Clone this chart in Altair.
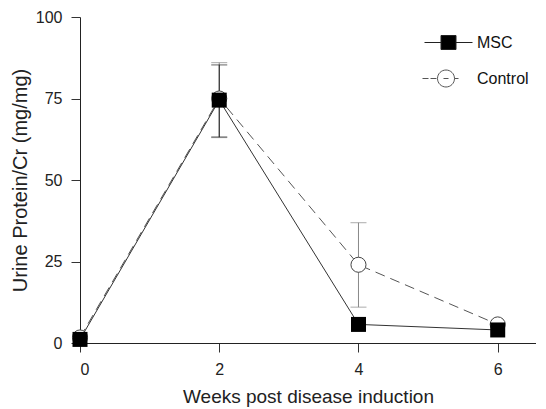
import altair as alt
import pandas as pd

weeks = [0, 2, 4, 6]
msc_values = [1.1, 74.5, 5.7, 4.0]
control_values = [1.7, 75.0, 24.0, 5.7]

err_weeks = [2, 2, 4]
err_series = ["Control", "MSC", "Control"]
err_low = [63.0, 63.2, 11.0]
err_high = [86.0, 85.3, 36.9]

series_names = ["MSC", "Control"]
x_ticks = [0, 2, 4, 6]
y_ticks = [0, 25, 50, 75, 100]

msc = pd.DataFrame({"week": weeks, "value": msc_values})
ctrl = pd.DataFrame({"week": weeks, "value": control_values})
err = pd.DataFrame({"week": err_weeks, "series": err_series, "lo": err_low, "hi": err_high})
legend_df = pd.DataFrame({"legend": series_names})

FONT = "Liberation Sans"

x_scale = alt.Scale(domain=[0, 6.55], nice=False, zero=False)
y_scale = alt.Scale(domain=[0, 100], nice=False)

x_axis = alt.Axis(values=x_ticks, title="Weeks post disease induction", format="d",
                  labelPadding=9, titlePadding=10, titleFontSize=19)
y_axis = alt.Axis(values=y_ticks, title="Urine Protein/Cr (mg/mg)", format="d",
                  labelPadding=9, titlePadding=5, titleFontSize=20)

err_color = alt.Color("series:N", scale=alt.Scale(domain=series_names, range=["#222222", "#888888"]), legend=None)

err_rules = alt.Chart(err).mark_rule(strokeWidth=1).encode(
    x=alt.X("week:Q", scale=x_scale, axis=x_axis),
    y=alt.Y("lo:Q", scale=y_scale, axis=y_axis),
    y2="hi:Q",
    color=err_color,
)
err_top = alt.Chart(err).mark_tick(orient="horizontal", size=16, thickness=1).encode(
    x=alt.X("week:Q", scale=x_scale), y=alt.Y("hi:Q", scale=y_scale), color=err_color)
err_bot = alt.Chart(err).mark_tick(orient="horizontal", size=16, thickness=1).encode(
    x=alt.X("week:Q", scale=x_scale), y=alt.Y("lo:Q", scale=y_scale), color=err_color)

ctrl_line = alt.Chart(ctrl).mark_line(color="#555555", strokeWidth=1, strokeDash=[10, 6]).encode(
    x=alt.X("week:Q", scale=x_scale), y=alt.Y("value:Q", scale=y_scale))
msc_line = alt.Chart(msc).mark_line(color="#333333", strokeWidth=1).encode(
    x=alt.X("week:Q", scale=x_scale), y=alt.Y("value:Q", scale=y_scale))

ctrl_pts = alt.Chart(ctrl).mark_circle(size=227, fill="white", stroke="#444444", strokeWidth=1, opacity=1).encode(
    x=alt.X("week:Q", scale=x_scale), y=alt.Y("value:Q", scale=y_scale))
msc_pts = alt.Chart(msc).mark_square(size=225, color="black", opacity=1).encode(
    x=alt.X("week:Q", scale=x_scale), y=alt.Y("value:Q", scale=y_scale))

msc_path = "M-2.4,0H-0.75M0.75,0H2.4M-0.75,-0.7H0.75V0.7H-0.75Z"
ctrl_path = ("M-2.6,0H-2.0M-1.8,0H-1.2M-0.5,0H0M0.6,0H1.0"
             "M-1.1,0A0.85,0.85 0 1,1 0.6,0A0.85,0.85 0 1,1 -1.1,0Z")

leg = alt.Legend(title=None, orient="none", legendX=358, legendY=15, symbolSize=400,
                 symbolStrokeWidth=1, labelFont=FONT, labelFontSize=16, labelColor="#111111",
                 labelOffset=18, rowPadding=16, padding=0)

legend_layer = alt.Chart(legend_df).transform_filter("false").mark_point(strokeWidth=1, opacity=1).encode(
    shape=alt.Shape("legend:N", scale=alt.Scale(domain=series_names, range=[msc_path, ctrl_path]), legend=leg),
    fill=alt.Fill("legend:N", scale=alt.Scale(domain=series_names, range=["black", "white"]), legend=leg),
    stroke=alt.Stroke("legend:N", scale=alt.Scale(domain=series_names, range=["#222222", "#555555"]), legend=leg),
)

chart = alt.layer(
    err_rules, err_top, err_bot, ctrl_line, msc_line, ctrl_pts, msc_pts, legend_layer
).resolve_scale(color="independent").properties(
    width=456, height=326,
    autosize=alt.AutoSizeParams(type="none"),
    padding={"left": 72, "top": 9, "right": 0, "bottom": 65},
).configure_view(stroke=None).configure_axis(
    grid=False, domainColor="#222222", tickColor="#333333", tickSize=9,
    labelFont=FONT, labelFontSize=16, labelColor="#222222",
    titleFont=FONT, titleFontWeight="normal", titleColor="#222222",
)

chart.save("out.html", embed_options={"renderer": "svg", "actions": False})
